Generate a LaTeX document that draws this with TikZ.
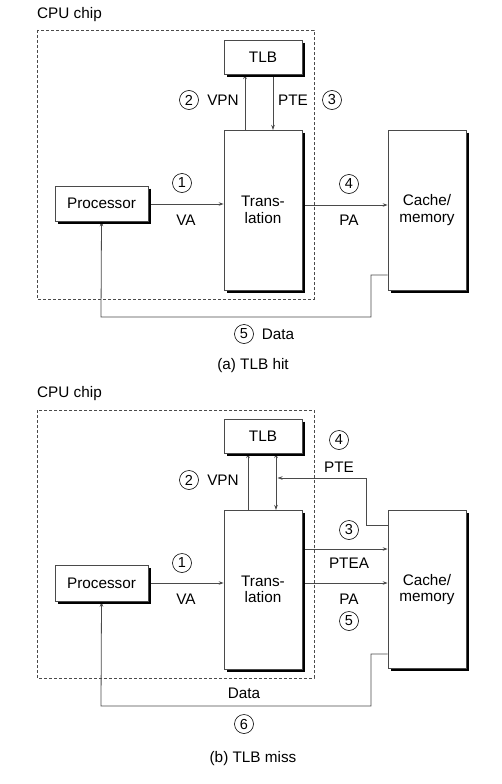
\documentclass[tikz,border=0pt]{standalone}
\usepackage{fontspec}
\setmainfont{Liberation Sans}
\usetikzlibrary{arrows.meta}
\definecolor{ln}{HTML}{4A4A4A}
\tikzset{
  box/.style={draw=ln, line width=0.7pt, fill=white, inner sep=0pt, align=center, font=\fontsize{15.3}{16.5}\selectfont},
  circ/.style={circle, draw=black, line width=0.6pt, inner sep=0pt, minimum size=19pt, font=\fontsize{14.5}{16}\selectfont},
  lbl/.style={inner sep=0pt, font=\fontsize{15.3}{17}\selectfont},
  conn/.style={draw=ln, line width=0.8pt, -{Stealth[length=5pt,width=3.5pt]}},
  chip/.style={draw=ln, line width=0.7pt, dash pattern=on 3pt off 2pt},
  shadowline/.style={black, line width=1.8pt}
}
\begin{document}
\begin{tikzpicture}[x=1pt,y=-1pt]
\useasboundingbox (0,0) rectangle (501,784);
% ===== (a) =====
\node[lbl, anchor=west] (cpuA) at (37,15) {CPU chip};
\draw[chip] (37,30) rectangle (314,299);
\node[box, minimum width=78pt, minimum height=34pt] (tlbA) at (263,57) {TLB};
\node[box, minimum width=78pt, minimum height=160pt] (trA) at (263,210) {Trans-\\lation};
\node[box, minimum width=78pt, minimum height=160pt] (cmA) at (427,210) {Cache/\\memory};
\node[box, minimum width=93pt, minimum height=35pt] (prA) at (101.5,203.5) {Processor};
% connectors (a)
\coordinate (vpnAb) at (245,130); \coordinate (vpnAt) at (245,74);
\coordinate (pteAt) at (273,74); \coordinate (pteAb) at (273,130);
\draw[conn] (vpnAb) -- (vpnAt);
\draw[conn] (pteAt) -- (pteAb);
\draw[conn] (prA.east |- 0,204) -- (trA.west |- 0,204);
\draw[conn] (trA.east |- 0,205) -- (cmA.west |- 0,205);
\coordinate (dA1) at (371,275);
\coordinate (dA2) at (371,317);
\coordinate (dA3) at (101,317);
\draw[conn] (cmA.west |- dA1) -- (dA1) -- (dA2) -- (dA3) -- (prA.south);
\node[circ] (c2A) at (189,100) {2};
\node[lbl] (vpnA) at (223,100) {VPN};
\node[lbl] (pteA) at (293,100) {PTE};
\node[circ] (c3A) at (332,100) {3};
\node[circ] (c1A) at (182,183) {1};
\node[lbl] (vaA) at (186,220) {VA};
\node[circ] (c4A) at (349,184) {4};
\node[lbl] (paA) at (349,220) {PA};
\node[circ] (c5A) at (244,334) {5};
\node[lbl] (dataA) at (278,334) {Data};
\node[lbl] (capA) at (253,366) {(a) TLB hit};
% ===== (b) =====
\node[lbl, anchor=west] (cpuB) at (37,394) {CPU chip};
\draw[chip] (37,410) rectangle (314,678);
\node[box, minimum width=78pt, minimum height=34pt] (tlbB) at (263,436) {TLB};
\node[box, minimum width=78pt, minimum height=159pt] (trB) at (263,589.5) {Trans-\\lation};
\node[box, minimum width=78pt, minimum height=158pt] (cmB) at (427,589.5) {Cache/\\memory};
\node[box, minimum width=93pt, minimum height=36pt] (prB) at (101.5,583.5) {Processor};
% connectors (b)
\coordinate (vpnBb) at (248,510); \coordinate (vpnBt) at (248,453);
\coordinate (dbt) at (276,453); \coordinate (dbb) at (276,510);
\draw[conn] (vpnBb) -- (vpnBt);
\draw[draw=ln, line width=0.8pt, {Stealth[length=5pt,width=3.5pt]}-{Stealth[length=5pt,width=3.5pt]}] (dbt) -- (dbb);
\coordinate (pB1) at (366,525);
\coordinate (pB2) at (366,478);
\coordinate (pB3) at (277.5,478);
\draw[conn] (cmB.west |- pB1) -- (pB1) -- (pB2) -- (pB3);
\draw[conn] (trB.east |- 0,549) -- (cmB.west |- 0,549);
\draw[conn] (trB.east |- 0,583) -- (cmB.west |- 0,583);
\draw[conn] (prB.east |- 0,583) -- (trB.west |- 0,583);
\coordinate (dB1) at (371,654);
\coordinate (dB2) at (371,706);
\coordinate (dB3) at (101,706);
\draw[conn] (cmB.west |- dB1) -- (dB1) -- (dB2) -- (dB3) -- (prB.south);
\node[circ] (c4B) at (339,440) {4};
\node[lbl] (pteB) at (339,467) {PTE};
\node[circ] (c2B) at (189,480) {2};
\node[lbl] (vpnB) at (223,480) {VPN};
\node[circ] (c3B) at (349,530) {3};
\node[lbl] (pteaB) at (349,563) {PTEA};
\node[circ] (c1B) at (182,563) {1};
\node[lbl] (vaB) at (186,599) {VA};
\node[lbl] (paB) at (349,599) {PA};
\node[circ] (c5B) at (349,621) {5};
\node[lbl] (dataB) at (244,693) {Data};
\node[circ] (c6B) at (244,724) {6};
\node[lbl] (capB) at (253,759) {(b) TLB miss};
% shadows
\foreach \n in {tlbA,trA,cmA,prA,tlbB,trB,cmB,prB}{
  \draw[shadowline] ([shift={(1.3pt,-3pt)}]\n.north east) -- ([shift={(1.3pt,-1.3pt)}]\n.south east) -- ([shift={(3pt,-1.3pt)}]\n.south west);
}
\end{tikzpicture}
\end{document}
